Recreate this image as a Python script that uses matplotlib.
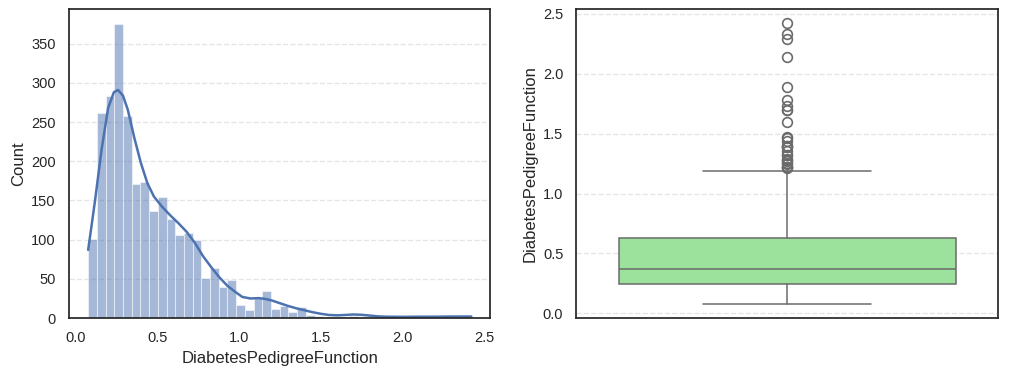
import matplotlib
matplotlib.use("Agg")
import matplotlib.pyplot as plt
import numpy as np
import seaborn as sns

sns.set_theme(style="white")
plt.rcParams["font.family"] = ["Liberation Sans", "DejaVu Sans"]

# --- histogram ---
bin_lo, bin_hi = 0.078, 2.42
counts = [101, 262, 283, 375, 258, 171, 174, 137, 154, 126, 106, 108, 99, 51,
          64, 40, 49, 17, 10, 26, 35, 12, 15, 8, 14, 4, 3, 1, 2, 1, 3, 2, 1, 0,
          1, 0, 0, 0, 2, 0, 0, 1, 1, 1]

# kde curve (count scale)
kde_x = [0.078, 0.12, 0.16, 0.20, 0.235, 0.26, 0.29, 0.32, 0.36, 0.40, 0.44,
         0.48, 0.53, 0.58, 0.63, 0.68, 0.73, 0.78, 0.83, 0.88, 0.93, 0.98,
         1.02, 1.07, 1.12, 1.16, 1.20, 1.25, 1.30, 1.35, 1.40, 1.45, 1.50,
         1.55, 1.60, 1.65, 1.70, 1.75, 1.80, 1.85, 1.90, 2.00, 2.10, 2.20,
         2.30, 2.42]
kde_y = [87, 150, 215, 268, 288, 291, 284, 266, 230, 198, 172, 155, 142, 131,
         121, 110, 96, 79, 65, 52, 41, 33, 27, 25, 25.5, 24.5, 22.5, 19, 15.5,
         12.5, 10, 7.5, 5.5, 4, 3.5, 4, 4.6, 4.2, 3.2, 2.2, 1.8, 1.6, 1.8, 1.8,
         2.0, 2.0]

# --- boxplot summary ---
q1, med, q3 = 0.24375, 0.3725, 0.62625
whis_lo, whis_hi = 0.078, 1.191
fliers = [2.288, 1.441, 1.39, 1.893, 1.781, 1.222, 1.4, 1.321, 1.224, 2.329,
          1.318, 1.213, 1.353, 1.224, 1.391, 1.476, 2.137, 1.731, 1.268, 1.6,
          2.42, 1.251, 1.699, 1.258, 1.282, 1.698, 1.461, 1.292, 1.394]

label = "DiabetesPedigreeFunction"
blue = "#4c72b0"
line_c = "#6b6b6b"

fig, (ax1, ax2) = plt.subplots(1, 2, figsize=(10.09, 3.76), dpi=100)
fig.subplots_adjust(left=0.0684, right=0.989, bottom=0.154, top=0.975, wspace=0.204)

edges = np.linspace(bin_lo, bin_hi, len(counts) + 1)
ax1.bar(edges[:-1], counts, width=np.diff(edges), align="edge",
        color=blue, alpha=0.5, edgecolor="white", linewidth=0.8)
ax1.plot(kde_x, kde_y, color=blue, lw=1.8)
ax1.set_xlabel(label, fontsize=12)
ax1.set_ylabel("Count", fontsize=12)
ax1.tick_params(labelsize=10.5)
ax1.grid(axis="y", linestyle="--", alpha=0.5)

stats = [dict(med=med, q1=q1, q3=q3, whislo=whis_lo, whishi=whis_hi, fliers=fliers)]
ax2.bxp(stats, positions=[0], widths=0.8, capwidths=0.4, patch_artist=True,
        boxprops=dict(facecolor="#9ce29c", edgecolor=line_c, linewidth=1.1),
        medianprops=dict(color=line_c, linewidth=1.1),
        whiskerprops=dict(color=line_c, linewidth=1.1),
        capprops=dict(color=line_c, linewidth=1.1),
        flierprops=dict(marker="o", markerfacecolor="none", markeredgewidth=1.2,
                        markeredgecolor=line_c, markersize=7))
ax2.set_xlim(-0.5, 0.5)
ax2.set_xticks([])
ax2.set_ylabel(label, fontsize=12)
ax2.tick_params(labelsize=10.5)
ax2.grid(axis="y", linestyle="--", alpha=0.5)

fig.savefig("out.png", dpi=100)
